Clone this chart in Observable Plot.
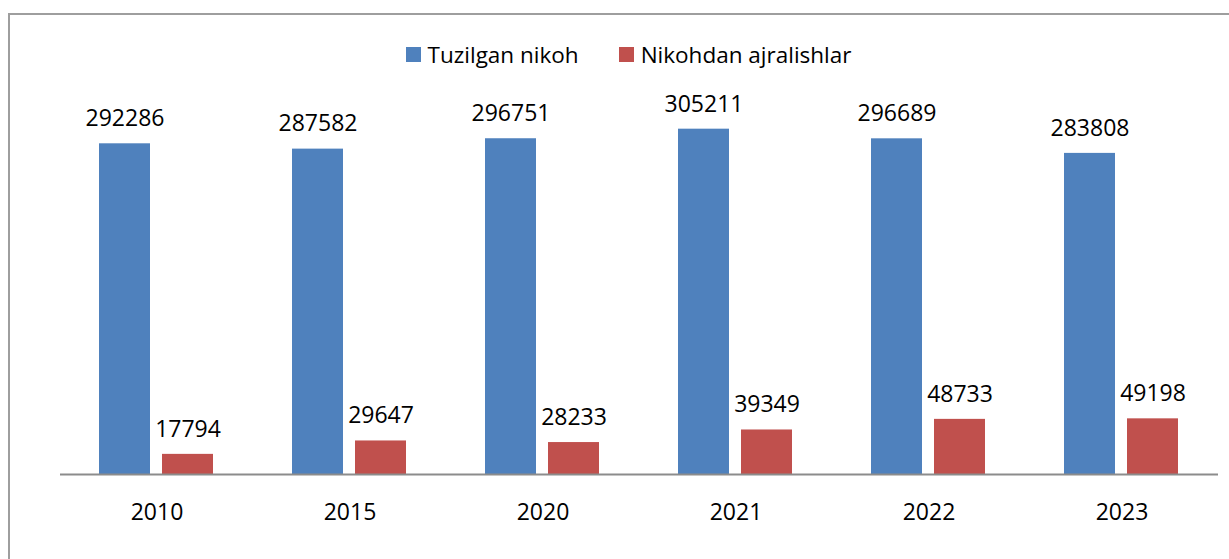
<!DOCTYPE html>
<html>
<head>
<meta charset="utf-8">
<script src="https://cdn.jsdelivr.net/npm/d3@7"></script>
<script src="https://cdn.jsdelivr.net/npm/@observablehq/plot@0.6"></script>
<style>
  html, body { margin: 0; padding: 0; background: #fff; overflow: hidden; }
  #wrap { position: relative; width: 1229px; height: 559px; overflow: hidden; font-family: "Open Sans", sans-serif; }
  #frame { position: absolute; left: 8px; top: 13px; width: 1400px; height: 700px; border: 2px solid #9e9e9e; box-sizing: border-box; }
  #legend { position: relative; height: 70px; box-sizing: border-box; padding-top: 39px; padding-left: 28px;
            display: flex; justify-content: center; align-items: center; font-size: 22.5px; color: #000; }
  .item { display: flex; align-items: center; }
  .sw { width: 15px; height: 15px; margin-right: 7px; }
  .gap { width: 40px; }
  #chart { position: relative; }
</style>
</head>
<body>
<div id="wrap">
  <div id="frame"></div>
  <div id="legend"></div>
  <div id="chart"></div>
</div>
<script>
const years = ["2010", "2015", "2020", "2021", "2022", "2023"];
const seriesNames = ["Tuzilgan nikoh", "Nikohdan ajralishlar"];
const marriages = [292286, 287582, 296751, 305211, 296689, 283808];
const divorces = [17794, 29647, 28233, 39349, 48733, 49198];
const colors = ["#4F81BD", "#C0504D"];

const rows = [];
years.forEach((y, i) => {
  rows.push({year: y, series: seriesNames[0], value: marriages[i]});
  rows.push({year: y, series: seriesNames[1], value: divorces[i]});
});

// legend
const leg = document.getElementById("legend");
seriesNames.forEach((s, i) => {
  if (i > 0) { const g = document.createElement("div"); g.className = "gap"; leg.appendChild(g); }
  const it = document.createElement("div"); it.className = "item";
  const sw = document.createElement("div"); sw.className = "sw"; sw.style.background = colors[i];
  const tx = document.createElement("span"); tx.textContent = s;
  it.appendChild(sw); it.appendChild(tx); leg.appendChild(it);
});

const plot = Plot.plot({
  width: 1229,
  height: 489,
  marginLeft: 60,
  marginRight: 11,
  marginTop: 8,
  marginBottom: 85,
  style: {fontFamily: "Open Sans", fontSize: "23px", color: "#000", background: "transparent", overflow: "visible"},
  fx: {domain: years, paddingInner: 0, paddingOuter: 0, label: null},
  x: {domain: seriesNames, paddingInner: 0.1875, paddingOuter: 0.6016, axis: null},
  y: {domain: [0, 350000], axis: null},
  color: {domain: seriesNames, range: colors},
  marks: [
    Plot.barY(rows, {fx: "year", x: "series", y: "value", fill: "series"}),
    Plot.text(rows, {fx: "year", x: "series", y: "value", text: d => String(d.value), dy: -25, fontSize: 23, fill: "#000"}),
    Plot.ruleY([0], {stroke: "#8c8c8c", strokeWidth: 2.2}),
    Plot.axisFx({anchor: "bottom", tickSize: 0, tickPadding: 29, fontSize: 23, label: null, fill: "#000"})
  ]
});
document.getElementById("chart").appendChild(plot);
</script>
</body>
</html>
